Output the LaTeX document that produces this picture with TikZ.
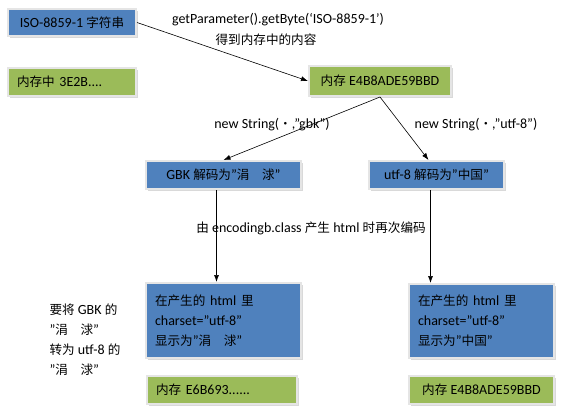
\documentclass[tikz,border=0pt]{standalone}
\usepackage{fontspec}
\setmainfont{Carlito}
\newfontfamily\cjk[Scale=0.9]{Noto Sans CJK SC}
\usetikzlibrary{arrows.meta}
\usetikzlibrary{shadows}
\definecolor{boxblue}{RGB}{79,129,189}
\definecolor{boxgreen}{RGB}{155,187,89}
\newcommand{\zh}[1]{{\cjk #1}}

\begin{document}
\begin{tikzpicture}[x=1pt, y=-1pt, every node/.style={font=\fontsize{14}{20}\selectfont},
		box/.style={draw=black!10, line width=2pt, anchor=north west, inner xsep=9pt, inner ysep=0pt,
			drop shadow={shadow xshift=1.5pt, shadow yshift=-1.5pt, opacity=0.3}},
		bluebox/.style={box, fill=boxblue},
		greenbox/.style={box, fill=boxgreen},
		link/.style={-{Latex[length=7pt,width=5pt]}, line width=0.6pt}]
		\useasboundingbox (0,0) rectangle (564,415);
		\node[bluebox, minimum width=128pt, minimum height=27pt] (iso) at (7,8) {ISO-8859-1 \zh{字符串}};
		\node[greenbox, text width=110pt, align=left, minimum height=28pt] (memA) at (7,67) {\zh{内存中} 3E2B....};
		\node[greenbox, minimum width=142pt, minimum height=30pt] (memB) at (308,65) {\zh{内存} E4B8ADE59BBD};
		\node[bluebox, minimum width=155pt, minimum height=28pt] (gbk) at (145,160) {GBK \zh{解码为}”\zh{涓　浗}”};
		\node[bluebox, minimum width=135pt, minimum height=28pt] (utf) at (368,160) {utf-8 \zh{解码为}”\zh{中国}”};
		\node[bluebox, text width=137pt, align=left, minimum height=75pt] (htmlL) at (145,282) {\zh{在产生的} html \zh{里}\\charset=”utf-8”\\\zh{显示为}”\zh{涓　浗}”};
		\node[bluebox, text width=127pt, align=left, minimum height=74pt] (htmlR) at (408,283) {\zh{在产生的} html \zh{里}\\charset=”utf-8”\\\zh{显示为}”\zh{中国}”};
		\node[greenbox, text width=132pt, align=left, minimum height=28pt] (memC) at (146,375) {\zh{内存} E6B693......};
		\node[greenbox, minimum width=145pt, minimum height=28pt] (memD) at (408,375) {\zh{内存} E4B8ADE59BBD};
		% labels
		\node (getA) at (278,20) {getParameter().getByte(‘ISO-8859-1’)};
		\node (getB) at (266,40) {\zh{得到内存中的内容}};
		\node (newA) at (272,125) {new String(\zh{・},”gbk”)};
		\node (newB) at (476,125) {new String(\zh{・},”utf-8”)};
		\node (enc) at (311,228) {\zh{由} encodingb.class \zh{产生} html \zh{时再次编码}};
		\node[anchor=north west, align=left] (note) at (46,300) {\zh{要将} GBK \zh{的}\\”\zh{涓　浗}”\\\zh{转为} utf-8 \zh{的}\\”\zh{涓　浗}”};
		% arrows
		\draw[link] (iso.east) -- (memB.west);
		\draw[link] (memB.south) -- (gbk.north);
		\draw[link] (memB.south) -- ([xshift=-8pt]utf.north);
		\draw[link] ([xshift=-7pt]gbk.south) -- ([xshift=-7pt]gbk.south |- htmlL.north);
		\draw[link] ([xshift=-6pt]utf.south) -- ([xshift=-6pt]utf.south |- htmlR.north);
	\end{tikzpicture}
\end{document}
